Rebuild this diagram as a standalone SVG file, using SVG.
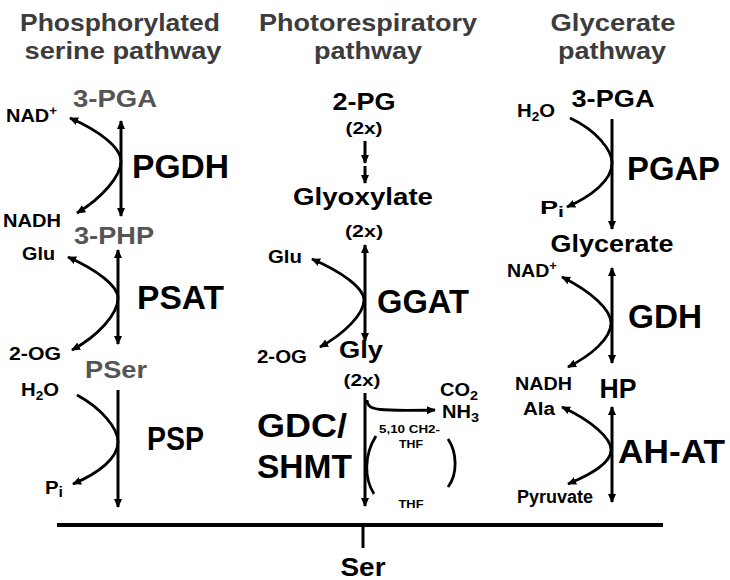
<svg xmlns="http://www.w3.org/2000/svg" width="730" height="580" viewBox="0 0 730 580">
<defs>
<marker id="ah" viewBox="0 0 10 10" refX="9" refY="5" markerWidth="9" markerHeight="9" markerUnits="userSpaceOnUse" orient="auto-start-reverse">
<path d="M0,0.5 L10,5 L0,9.5 z" fill="#000"/>
</marker>
<style>
text{font-family:"Liberation Sans",Arial,sans-serif;font-weight:bold;fill:#000}
.hd{font-size:24px;fill:#3c3c3c;text-anchor:middle}
.met{font-size:23px;text-anchor:middle}
.g{fill:#555}
.two{font-size:17px;text-anchor:middle}
.enz{font-size:33px}
.co{font-size:18px}
.sm{font-size:11px}
.ln{fill:none;stroke:#000;stroke-width:3}
.cv{fill:none;stroke:#000;stroke-width:2.8}
</style>
</defs>
<rect width="730" height="580" fill="#fff"/>

<g id="headings">
<text class="hd" x="120" y="31" textLength="200" lengthAdjust="spacingAndGlyphs">Phosphorylated</text>
<text class="hd" x="123" y="59" textLength="197" lengthAdjust="spacingAndGlyphs">serine pathway</text>
<text class="hd" x="368" y="31" textLength="218" lengthAdjust="spacingAndGlyphs">Photorespiratory</text>
<text class="hd" x="368" y="59" textLength="108" lengthAdjust="spacingAndGlyphs">pathway</text>
<text class="hd" x="613" y="31" textLength="125" lengthAdjust="spacingAndGlyphs">Glycerate</text>
<text class="hd" x="612" y="59" textLength="108" lengthAdjust="spacingAndGlyphs">pathway</text>
</g>

<g id="n-3pga-left"><text class="met g" x="115" y="107" textLength="84" lengthAdjust="spacingAndGlyphs">3-PGA</text></g>
<g id="n-3php"><text class="met g" x="114" y="244" textLength="80" lengthAdjust="spacingAndGlyphs">3-PHP</text></g>
<g id="n-pser"><text class="met g" x="116" y="378" textLength="62" lengthAdjust="spacingAndGlyphs">PSer</text></g>
<g id="n-2pg">
<text class="met" x="364" y="110" textLength="63" lengthAdjust="spacingAndGlyphs">2-PG</text>
<text class="two" x="364" y="134" textLength="37" lengthAdjust="spacingAndGlyphs">(2x)</text>
</g>
<g id="n-glyoxylate">
<text class="met" x="363" y="205" textLength="140" lengthAdjust="spacingAndGlyphs">Glyoxylate</text>
<text class="two" x="364" y="237" textLength="38" lengthAdjust="spacingAndGlyphs">(2x)</text>
</g>
<g id="n-gly">
<text class="met" x="361" y="358" textLength="44" lengthAdjust="spacingAndGlyphs">Gly</text>
<text class="two" x="362" y="386" textLength="37" lengthAdjust="spacingAndGlyphs">(2x)</text>
</g>
<g id="n-3pga-right"><text class="met" x="613" y="107" textLength="83" lengthAdjust="spacingAndGlyphs">3-PGA</text></g>
<g id="n-glycerate"><text class="met" x="612" y="252" textLength="123" lengthAdjust="spacingAndGlyphs">Glycerate</text></g>
<g id="n-hp"><text class="met" x="618" y="398" style="font-size:27px" textLength="37" lengthAdjust="spacingAndGlyphs">HP</text></g>
<g id="n-ser"><text class="met" x="363" y="576" style="font-size:25px" textLength="45" lengthAdjust="spacingAndGlyphs">Ser</text></g>

<g id="enzymes">
<text class="enz" x="132" y="178" textLength="97" lengthAdjust="spacingAndGlyphs">PGDH</text>
<text class="enz" x="137" y="309" textLength="87" lengthAdjust="spacingAndGlyphs">PSAT</text>
<text class="enz" x="147" y="450" textLength="57" lengthAdjust="spacingAndGlyphs">PSP</text>
<text class="enz" x="377" y="313" textLength="92" lengthAdjust="spacingAndGlyphs">GGAT</text>
<text class="enz" x="257" y="437" textLength="90" lengthAdjust="spacingAndGlyphs">GDC/</text>
<text class="enz" x="257" y="478" textLength="95" lengthAdjust="spacingAndGlyphs">SHMT</text>
<text class="enz" x="627" y="180" textLength="93" lengthAdjust="spacingAndGlyphs">PGAP</text>
<text class="enz" x="628" y="328" textLength="74" lengthAdjust="spacingAndGlyphs">GDH</text>
<text class="enz" x="618" y="463" textLength="107" lengthAdjust="spacingAndGlyphs">AH-AT</text>
</g>

<g id="cofactors">
<text class="co" x="6" y="122" textLength="51" lengthAdjust="spacingAndGlyphs">NAD<tspan dy="-7" font-size="12">+</tspan></text>
<text class="co" x="3" y="227" textLength="58" lengthAdjust="spacingAndGlyphs">NADH</text>
<text class="co" x="22" y="260" textLength="33" lengthAdjust="spacingAndGlyphs">Glu</text>
<text class="co" x="9" y="360" textLength="52" lengthAdjust="spacingAndGlyphs">2-OG</text>
<text class="co" x="21" y="396" textLength="38" lengthAdjust="spacingAndGlyphs">H<tspan dy="4" font-size="12">2</tspan><tspan dy="-4">O</tspan></text>
<text class="co" x="45" y="494" textLength="18" lengthAdjust="spacingAndGlyphs">P<tspan dy="3" font-size="14">i</tspan></text>
<text class="co" x="268" y="263" textLength="34" lengthAdjust="spacingAndGlyphs">Glu</text>
<text class="co" x="257" y="363" textLength="50" lengthAdjust="spacingAndGlyphs">2-OG</text>
<text class="co" x="440" y="396" textLength="38" lengthAdjust="spacingAndGlyphs">CO<tspan dy="4" font-size="13">2</tspan></text>
<text class="co" x="442" y="418" textLength="37" lengthAdjust="spacingAndGlyphs">NH<tspan dy="4" font-size="13">3</tspan></text>
<text class="sm" x="379" y="433" textLength="61" lengthAdjust="spacingAndGlyphs">5,10 CH2-</text>
<text class="sm" x="411" y="448" text-anchor="middle" textLength="24" lengthAdjust="spacingAndGlyphs">THF</text>
<text class="sm" x="411" y="508" text-anchor="middle" textLength="25" lengthAdjust="spacingAndGlyphs">THF</text>
<text class="co" x="517" y="117" textLength="38" lengthAdjust="spacingAndGlyphs">H<tspan dy="4" font-size="12">2</tspan><tspan dy="-4">O</tspan></text>
<text class="co" x="540" y="214" textLength="24" lengthAdjust="spacingAndGlyphs">P<tspan dy="3" font-size="14">i</tspan></text>
<text class="co" x="507" y="277" textLength="50" lengthAdjust="spacingAndGlyphs">NAD<tspan dy="-7" font-size="12">+</tspan></text>
<text class="co" x="515" y="390" textLength="57" lengthAdjust="spacingAndGlyphs">NADH</text>
<text class="co" x="523" y="415" textLength="32" lengthAdjust="spacingAndGlyphs">Ala</text>
<text class="co" x="517" y="503" textLength="76" lengthAdjust="spacingAndGlyphs">Pyruvate</text>
</g>

<g id="connectors">
<line class="ln" x1="121" y1="121" x2="121" y2="216" marker-start="url(#ah)" marker-end="url(#ah)"/>
<path class="cv" d="M70,118 C100,131 121,148 121,161 C121,176 102,198 77,213" marker-start="url(#ah)" marker-end="url(#ah)"/>
<line class="ln" x1="118" y1="250" x2="118" y2="344" marker-start="url(#ah)" marker-end="url(#ah)"/>
<path class="cv" d="M68,257 C97,270 118,286 118,298 C118,314 98,336 72,350" marker-start="url(#ah)" marker-end="url(#ah)"/>
<line class="ln" x1="118" y1="390" x2="118" y2="507" marker-end="url(#ah)"/>
<path class="cv" d="M77,395 C101,408 118,428 118,442 C118,458 99,473 73,484" marker-end="url(#ah)"/>

<line class="ln" x1="365" y1="141" x2="365" y2="163" stroke-width="2.2" marker-end="url(#ah)"/>
<line class="ln" x1="365" y1="166" x2="365" y2="183" stroke-width="2.2" marker-end="url(#ah)"/>
<line class="ln" x1="365" y1="245" x2="365" y2="341" marker-start="url(#ah)" marker-end="url(#ah)"/>
<path class="cv" d="M312,259 C342,272 364,288 364,300 C364,314 344,334 320,347" marker-start="url(#ah)" marker-end="url(#ah)"/>
<line class="ln" x1="365" y1="393" x2="365" y2="506" marker-end="url(#ah)"/>
<path class="cv" d="M367,400 C367,411 380,411 435,410" marker-end="url(#ah)"/>
<path class="cv" d="M376,436 C364,455 364,478 374,494"/>
<path class="cv" d="M448,439 C457,452 458,474 448,487"/>

<line class="ln" x1="612" y1="119" x2="612" y2="229" marker-end="url(#ah)"/>
<path class="cv" d="M570,118 C596,130 612,150 612,163 C612,180 592,196 567,207" marker-end="url(#ah)"/>
<line class="ln" x1="612" y1="268" x2="612" y2="363" marker-start="url(#ah)" marker-end="url(#ah)"/>
<path class="cv" d="M562,277 C592,292 611,310 611,323 C611,338 592,355 568,367" marker-start="url(#ah)" marker-end="url(#ah)"/>
<line class="ln" x1="612" y1="407" x2="612" y2="502" marker-start="url(#ah)" marker-end="url(#ah)"/>
<path class="cv" d="M562,407 C592,421 611,438 611,450 C611,463 592,474 568,484" marker-start="url(#ah)" marker-end="url(#ah)"/>

<line x1="57" y1="525" x2="663" y2="525" stroke="#000" stroke-width="4"/>
<line x1="363" y1="525" x2="363" y2="548" stroke="#000" stroke-width="3"/>
</g>
</svg>
